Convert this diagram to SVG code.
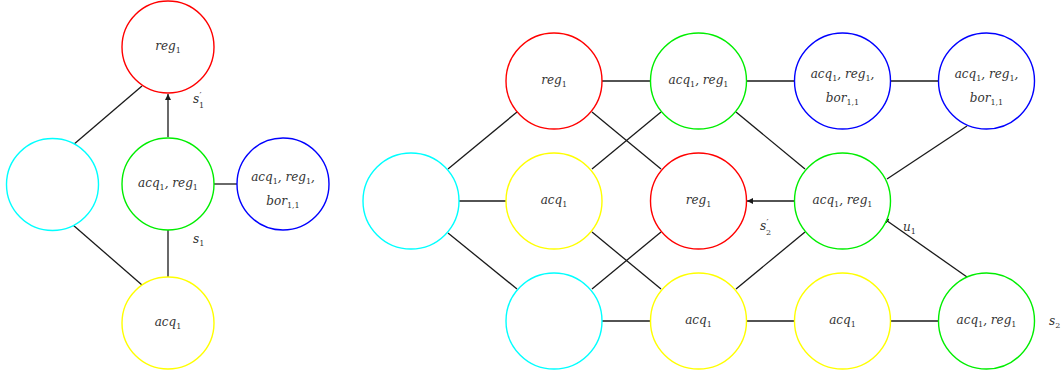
<svg xmlns="http://www.w3.org/2000/svg" width="1062" height="376" viewBox="0 0 1062 376">
<style>
.n{fill:#fff;stroke-width:1.4}
.red{stroke:#ff0000}.grn{stroke:#00ee00}.blu{stroke:#0000ff}.cya{stroke:#00ffff}.yel{stroke:#ffff00}
.e line{stroke:#1a1a1a;stroke-width:1.3}
.t{font-family:"DejaVu Serif",serif;font-style:italic;font-size:12px;fill:#333;text-anchor:middle}
.l{font-family:"DejaVu Serif",serif;font-style:italic;font-size:12px;fill:#333}
.s{font-size:8px;font-style:normal}
.p{font-size:9px;font-style:normal}
</style>
<defs>
<marker id="ah" markerUnits="userSpaceOnUse" markerWidth="8" markerHeight="8" refX="6" refY="3" orient="auto">
<path d="M0,0 L6,3 L0,6 z" fill="#1a1a1a"/>
</marker>
</defs>
<g id="connectors" class="e">
<line x1="73" y1="145" x2="142" y2="86"/>
<line x1="73" y1="225" x2="142" y2="285"/>
<line x1="168" y1="137" x2="168" y2="94" marker-end="url(#ah)"/>
<line x1="168" y1="277" x2="168" y2="230"/>
<line x1="237" y1="184" x2="211" y2="184"/>
<line x1="459" y1="201" x2="506" y2="201"/>
<line x1="448" y1="169" x2="517" y2="112"/>
<line x1="448" y1="233" x2="517" y2="289"/>
<line x1="602" y1="81" x2="651" y2="81"/>
<line x1="747" y1="81" x2="794" y2="81"/>
<line x1="891" y1="81" x2="939" y2="81"/>
<line x1="592" y1="112" x2="661" y2="169"/>
<line x1="661" y1="112" x2="592" y2="169"/>
<line x1="736" y1="112" x2="805" y2="169"/>
<line x1="967" y1="126" x2="887" y2="179"/>
<line x1="592" y1="232" x2="661" y2="289"/>
<line x1="661" y1="232" x2="592" y2="289"/>
<line x1="805" y1="232" x2="736" y2="289"/>
<line x1="602" y1="321" x2="651" y2="321"/>
<line x1="747" y1="321" x2="794" y2="321"/>
<line x1="891" y1="321" x2="939" y2="321"/>
<line x1="794" y1="201" x2="747" y2="201" marker-end="url(#ah)"/>
<line x1="967" y1="277" x2="883" y2="218" marker-end="url(#ah)"/>
</g>
<g id="labels">
<text class="l" x="193" y="103">s<tspan class="p" x="199.5" y="99">′</tspan><tspan class="s" x="199" y="108">1</tspan></text>
<text class="l" x="193" y="243">s<tspan class="s" dy="3">1</tspan></text>
<text class="l" x="760" y="230">s<tspan class="p" x="766.5" y="226">′</tspan><tspan class="s" x="766" y="235">2</tspan></text>
<text class="l" x="903" y="231">u<tspan class="s" dy="3">1</tspan></text>
<text class="l" x="1049" y="325">s<tspan class="s" dy="3">2</tspan></text>
</g>
<g id="L_reg1"><circle class="n red" cx="168" cy="47" r="46"/><text class="t" x="168" y="50">reg<tspan class="s" dy="3">1</tspan></text></g>
<g id="L_cyan"><circle class="n cya" cx="52.5" cy="184.5" r="46"/></g>
<g id="L_acqreg"><circle class="n grn" cx="168" cy="184" r="46"/><text class="t" x="168" y="187">acq<tspan class="s" dy="3">1</tspan><tspan dy="-3">, reg</tspan><tspan class="s" dy="3">1</tspan></text></g>
<g id="L_bor"><circle class="n blu" cx="283" cy="184" r="46"/><text class="t" x="283" y="181">acq<tspan class="s" dy="3">1</tspan><tspan dy="-3">, reg</tspan><tspan class="s" dy="3">1</tspan><tspan dy="-3">,</tspan></text><text class="t" x="283" y="205">bor<tspan class="s" dy="3">1,1</tspan></text></g>
<g id="L_acq"><circle class="n yel" cx="168" cy="323" r="46"/><text class="t" x="168" y="326">acq<tspan class="s" dy="3">1</tspan></text></g>
<g id="R_cyan1"><circle class="n cya" cx="411" cy="201" r="48"/></g>
<g id="R_reg1a"><circle class="n red" cx="554" cy="81" r="48"/><text class="t" x="554" y="84">reg<tspan class="s" dy="3">1</tspan></text></g>
<g id="R_acqreg1"><circle class="n grn" cx="698.5" cy="81" r="48"/><text class="t" x="698.5" y="84">acq<tspan class="s" dy="3">1</tspan><tspan dy="-3">, reg</tspan><tspan class="s" dy="3">1</tspan></text></g>
<g id="R_bor1"><circle class="n blu" cx="842.5" cy="81" r="48"/><text class="t" x="842.5" y="78">acq<tspan class="s" dy="3">1</tspan><tspan dy="-3">, reg</tspan><tspan class="s" dy="3">1</tspan><tspan dy="-3">,</tspan></text><text class="t" x="842.5" y="102">bor<tspan class="s" dy="3">1,1</tspan></text></g>
<g id="R_bor2"><circle class="n blu" cx="986.5" cy="81" r="48"/><text class="t" x="986.5" y="78">acq<tspan class="s" dy="3">1</tspan><tspan dy="-3">, reg</tspan><tspan class="s" dy="3">1</tspan><tspan dy="-3">,</tspan></text><text class="t" x="986.5" y="102">bor<tspan class="s" dy="3">1,1</tspan></text></g>
<g id="R_acq1a"><circle class="n yel" cx="554" cy="201" r="48"/><text class="t" x="554" y="204">acq<tspan class="s" dy="3">1</tspan></text></g>
<g id="R_reg1b"><circle class="n red" cx="698.5" cy="201" r="48"/><text class="t" x="698.5" y="204">reg<tspan class="s" dy="3">1</tspan></text></g>
<g id="R_acqreg2"><circle class="n grn" cx="842.5" cy="201" r="48"/><text class="t" x="842.5" y="204">acq<tspan class="s" dy="3">1</tspan><tspan dy="-3">, reg</tspan><tspan class="s" dy="3">1</tspan></text></g>
<g id="R_cyan2"><circle class="n cya" cx="554" cy="321" r="48"/></g>
<g id="R_acq1b"><circle class="n yel" cx="698.5" cy="321" r="48"/><text class="t" x="698.5" y="324">acq<tspan class="s" dy="3">1</tspan></text></g>
<g id="R_acq1c"><circle class="n yel" cx="842.5" cy="321" r="48"/><text class="t" x="842.5" y="324">acq<tspan class="s" dy="3">1</tspan></text></g>
<g id="R_acqreg3"><circle class="n grn" cx="986.5" cy="321" r="48"/><text class="t" x="986.5" y="324">acq<tspan class="s" dy="3">1</tspan><tspan dy="-3">, reg</tspan><tspan class="s" dy="3">1</tspan></text></g>
</svg>
